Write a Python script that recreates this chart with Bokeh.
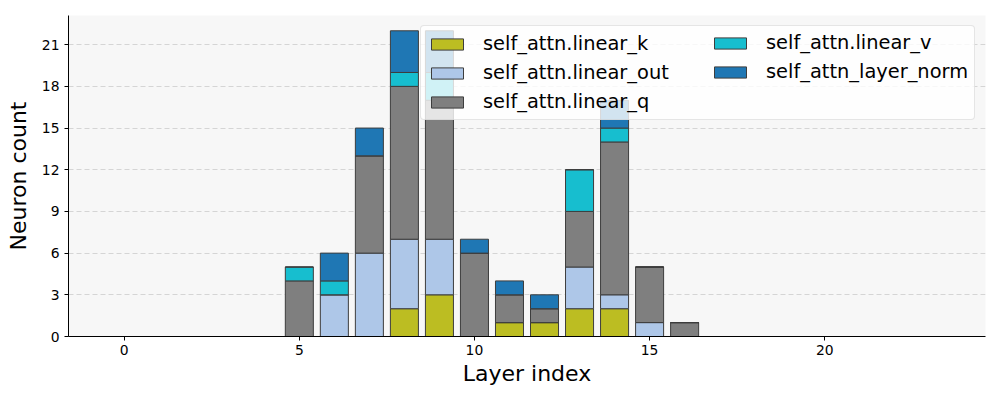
from bokeh.plotting import figure
from bokeh.models import Range1d, FixedTicker, Legend, LegendItem
from bokeh.embed import file_html
from bokeh.resources import INLINE

layers = list(range(24))
series_names = ["self_attn.linear_k", "self_attn.linear_out", "self_attn.linear_q",
                "self_attn.linear_v", "self_attn_layer_norm"]
linear_k =   [0, 0, 0, 0, 0, 0, 0, 0, 2, 3, 0, 1, 1, 2, 2, 0, 0, 0, 0, 0, 0, 0, 0, 0]
linear_out = [0, 0, 0, 0, 0, 0, 3, 6, 5, 4, 0, 0, 0, 3, 1, 1, 0, 0, 0, 0, 0, 0, 0, 0]
linear_q =   [0, 0, 0, 0, 0, 4, 0, 7, 11, 10, 6, 2, 1, 4, 11, 4, 1, 0, 0, 0, 0, 0, 0, 0]
linear_v =   [0, 0, 0, 0, 0, 1, 1, 0, 1, 2, 0, 0, 0, 3, 1, 0, 0, 0, 0, 0, 0, 0, 0, 0]
layer_norm = [0, 0, 0, 0, 0, 0, 2, 2, 3, 3, 1, 1, 1, 0, 2, 0, 0, 0, 0, 0, 0, 0, 0, 0]
colors = ["#bcbd22", "#aec7e8", "#7f7f7f", "#17becf", "#1f77b4"]
y_ticks = [0, 3, 6, 9, 12, 15, 18, 21]
x_ticks = [0, 5, 10, 15, 20]

data = {"layer": layers, "k": linear_k, "out": linear_out, "q": linear_q,
        "v": linear_v, "norm": layer_norm}
keys = ["k", "out", "q", "v", "norm"]

p = figure(width=1000, height=400, output_backend="svg", toolbar_location=None,
           x_range=Range1d(-1.59, 24.59), y_range=Range1d(0, 23.1),
           min_border_left=68, min_border_right=15, min_border_top=15, min_border_bottom=64)
p.background_fill_color = "#f7f7f7"
p.border_fill_color = "white"
p.outline_line_color = None

renderers = p.vbar_stack(keys, x="layer", width=0.8, source=data, color=colors,
                         line_color="#3d3d3d", line_width=1)

p.xgrid.visible = False
p.ygrid.grid_line_color = "#cccccc"
p.ygrid.grid_line_dash = "5 3"
p.ygrid.grid_line_width = 0.8
p.ygrid.ticker = FixedTicker(ticks=y_ticks)

for ax in (p.xaxis[0], p.yaxis[0]):
    ax.axis_line_color = "black"
    ax.axis_line_width = 1
    ax.major_tick_out = 4
    ax.major_tick_in = 0
    ax.minor_tick_out = 0
    ax.minor_tick_in = 0
    ax.major_label_text_font = "DejaVu Sans"
    ax.major_label_text_font_size = "13.9px"
    ax.major_label_text_color = "black"
    ax.axis_label_text_font = "DejaVu Sans"
    ax.axis_label_text_font_size = "22px"
    ax.axis_label_text_font_style = "normal"
    ax.axis_label_text_color = "black"

p.xaxis[0].ticker = FixedTicker(ticks=x_ticks)
p.yaxis[0].ticker = FixedTicker(ticks=y_ticks)
p.xaxis[0].axis_label = "Layer index"
p.yaxis[0].axis_label = "Neuron count"
p.xaxis[0].major_label_standoff = 4
p.yaxis[0].major_label_standoff = 5
p.xaxis[0].axis_label_standoff = 3
p.yaxis[0].axis_label_standoff = 8

common = dict(location="top_right", label_text_font="DejaVu Sans",
              label_text_font_size="19.4px", label_text_color="black",
              glyph_width=40, glyph_height=14,
              label_standoff=16, label_height=20, spacing=6, padding=6, margin=10,
              border_line_width=1)

items_a = [LegendItem(label=series_names[i], renderers=[renderers[i]]) for i in range(3)]
items_b = [LegendItem(label=series_names[i], renderers=[renderers[i]]) for i in range(3, 5)]

legend_a = Legend(items=items_a, label_width=485,
                  background_fill_color="white", background_fill_alpha=0.8,
                  border_line_color="#cccccc", border_radius=4, **common)
legend_b = Legend(items=items_b, label_width=203, background_fill_alpha=0.0,
                  border_line_color="#cccccc", border_line_alpha=0.0, **common)
p.add_layout(legend_a, "center")
p.add_layout(legend_b, "center")

open("out.html", "w").write(file_html(p, INLINE))
